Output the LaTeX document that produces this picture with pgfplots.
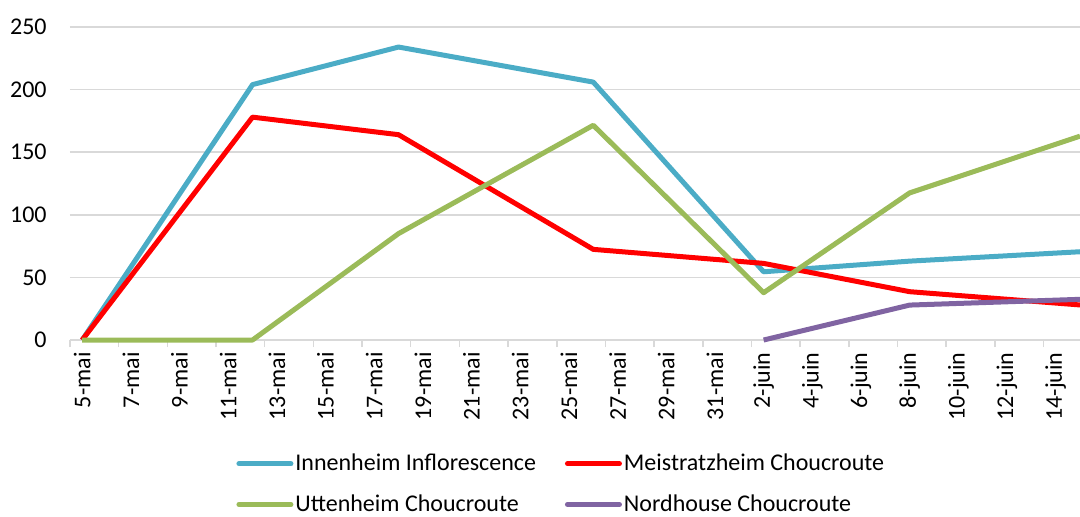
\documentclass[border=0pt]{standalone}
\usepackage{pgfplots}
\pgfplotsset{compat=1.18}
\usepackage{fontspec}
\setmainfont{Carlito}
\definecolor{cblue}{HTML}{4BACC6}
\definecolor{cred}{HTML}{FF0000}
\definecolor{cgreen}{HTML}{9BBB59}
\definecolor{cpurple}{HTML}{8064A2}
\definecolor{cgrid}{HTML}{D9D9D9}
\begin{document}
\begin{tikzpicture}
\begin{axis}[
  scale only axis,
  width=505pt, height=156.5pt,
  xmin=4.5, xmax=46, ymin=0, ymax=250,
  clip=false,
  axis line style={draw=none},
  xtick pos=bottom, ytick pos=left,
  ytick={0,50,...,250},
  ymajorgrids, grid style={cgrid, line width=0.75pt},
  major tick length=0pt,
  xtick={5,7,...,45},
  xticklabels={5-mai,7-mai,9-mai,11-mai,13-mai,15-mai,17-mai,19-mai,21-mai,23-mai,25-mai,27-mai,29-mai,31-mai,2-juin,4-juin,6-juin,8-juin,10-juin,12-juin,14-juin},
  extra x ticks={4.5,6.5,...,44.5},
  extra x tick labels={},
  extra x tick style={major tick length=3.5pt, tick align=outside, tick style={cgrid, line width=0.75pt}, xmajorgrids=false},
  xticklabel style={rotate=90, anchor=east, inner xsep=6pt, inner ysep=0pt, font=\fontsize{12}{14}\selectfont},
  yticklabel style={anchor=east, inner xsep=11.5pt, inner ysep=0pt, font=\fontsize{12}{14}\selectfont},
  /pgf/number format/assume math mode=true,
  legend columns=2,
  legend style={at={(0.1644,-0.350)}, anchor=north west, draw=none, inner sep=0pt,
    font=\fontsize{12}{14}\selectfont, row sep=6.5pt,
    nodes={inner xsep=1pt, inner ysep=2pt},
    /tikz/every even column/.append style={column sep=13.5pt}},
  legend cell align=left,
  legend image code/.code={\draw[#1, line width=2.5pt, line cap=round] (0pt,0pt) -- (26pt,0pt);},
]
\addplot[cblue, line width=2.5pt, line join=round] coordinates {(5,0) (12,204) (18,234) (26,206) (33,54.5) (39,63) (46,70.5)};
\addlegendentry{Innenheim Inflorescence}
\addplot[cred, line width=2.5pt, line join=round] coordinates {(5,0) (12,178) (18,164) (26,72.4) (33,61.2) (39,38.6) (46,28)};
\addlegendentry{Meistratzheim Choucroute}
\addplot[cgreen, line width=2.5pt, line join=round] coordinates {(5,0) (12,0) (18,85) (26,171.5) (33,37.8) (39,117.5) (46,162.8)};
\addlegendentry{Uttenheim Choucroute}
\addplot[cpurple, line width=2.5pt, line join=round] coordinates {(33,0) (39,27.9) (46,32.5)};
\addlegendentry{Nordhouse Choucroute}
\end{axis}
\pgfresetboundingbox
\path (-35pt,-88pt) rectangle (505pt,170pt);
\end{tikzpicture}
\end{document}
